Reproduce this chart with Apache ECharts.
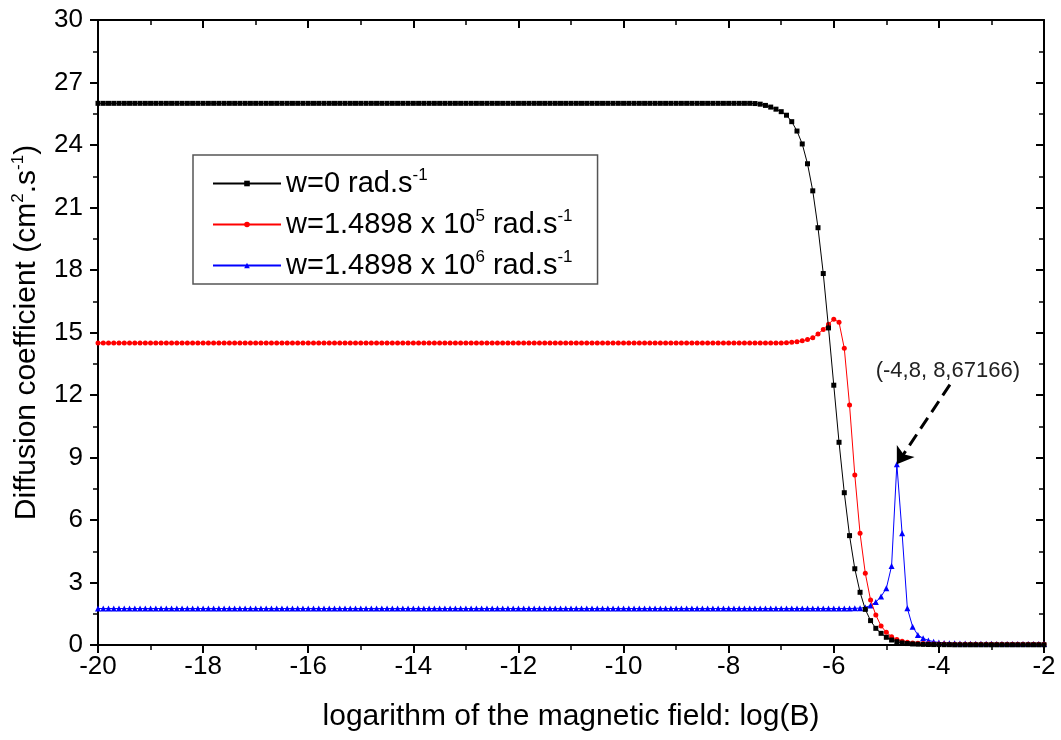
<!DOCTYPE html>
<html>
<head>
<meta charset="utf-8">
<script src="https://cdn.jsdelivr.net/npm/echarts@6/dist/echarts.min.js"></script>
<style>
html,body{margin:0;padding:0;background:#fff;}
#chart{width:1061px;height:740px;}
</style>
</head>
<body>
<div id="chart"></div>
<script>
// x grid: log(B) from -20 to -2 sampled every 0.1 (181 points)
var xStart = -20;
var xStep = 0.1;

var xTicks = [-20, -18, -16, -14, -12, -10, -8, -6, -4, -2];
var yTicks = [0, 3, 6, 9, 12, 15, 18, 21, 24, 27, 30];

var seriesNames = [
  'w=0 rad.s^-1',
  'w=1.4898 x 10^5 rad.s^-1',
  'w=1.4898 x 10^6 rad.s^-1'
];

var dW0 = [
  26,26,26,26,26,26,26,26,26,26,
  26,26,26,26,26,26,26,26,26,26,
  26,26,26,26,26,26,26,26,26,26,
  26,26,26,26,26,26,26,26,26,26,
  26,26,26,26,26,26,26,26,26,26,
  26,26,26,26,26,26,26,26,26,26,
  26,26,26,26,26,26,26,26,26,26,
  26,26,26,26,26,26,26,26,26,26,
  26,26,26,26,26,26,26,26,26,26,
  26,26,26,26,26,26,26,26,26,26,
  26,26,26,26,26,26,26,26,26,26,
  26,26,26,26,26,26,26,26,26,26,
  26,26,26,26,26,25.99,
  25.96,25.9,25.82,25.72,25.6,25.43,25.12,24.67,24.05,23.1,21.8,20.03,17.83,15.22,
  12.47,9.73,7.31,5.25,3.66,2.53,1.71,1.17,0.8,0.56,0.37,0.24,0.16,0.1,0.07,0.05,0.04,0.03,0.025,0.02,
  0.02,0.015,0.015,0.01,0.01,0.01,0.01,0.01,0.01,0.01,0.01,0.01,0.01,0.01,0.01,0.01,0.01,0.01,0.01,0.01,0.01
];

var dW5 = [
  14.5,14.5,14.5,14.5,14.5,14.5,14.5,14.5,14.5,14.5,
  14.5,14.5,14.5,14.5,14.5,14.5,14.5,14.5,14.5,14.5,
  14.5,14.5,14.5,14.5,14.5,14.5,14.5,14.5,14.5,14.5,
  14.5,14.5,14.5,14.5,14.5,14.5,14.5,14.5,14.5,14.5,
  14.5,14.5,14.5,14.5,14.5,14.5,14.5,14.5,14.5,14.5,
  14.5,14.5,14.5,14.5,14.5,14.5,14.5,14.5,14.5,14.5,
  14.5,14.5,14.5,14.5,14.5,14.5,14.5,14.5,14.5,14.5,
  14.5,14.5,14.5,14.5,14.5,14.5,14.5,14.5,14.5,14.5,
  14.5,14.5,14.5,14.5,14.5,14.5,14.5,14.5,14.5,14.5,
  14.5,14.5,14.5,14.5,14.5,14.5,14.5,14.5,14.5,14.5,
  14.5,14.5,14.5,14.5,14.5,14.5,14.5,14.5,14.5,14.5,
  14.5,14.5,14.5,14.5,14.5,14.5,14.5,14.5,14.5,14.5,
  14.5,14.5,14.5,14.5,14.5,14.5,14.5,14.5,14.5,14.5,
  14.5,14.51,14.53,14.56,14.6,14.66,14.75,14.93,15.15,15.4,15.64,15.49,
  14.24,11.52,8.16,5.36,3.44,2.16,1.44,0.91,0.61,0.4,0.27,0.18,0.13,0.1,0.08,0.07,0.06,0.05,
  0.05,0.05,0.04,0.04,0.04,0.04,0.04,0.04,0.04,0.04,0.04,0.04,0.04,0.04,0.04,0.04,0.04,0.04,0.04,0.04,0.04
];

var dW6 = [
  1.75,1.75,1.75,1.75,1.75,1.75,1.75,1.75,1.75,1.75,
  1.75,1.75,1.75,1.75,1.75,1.75,1.75,1.75,1.75,1.75,
  1.75,1.75,1.75,1.75,1.75,1.75,1.75,1.75,1.75,1.75,
  1.75,1.75,1.75,1.75,1.75,1.75,1.75,1.75,1.75,1.75,
  1.75,1.75,1.75,1.75,1.75,1.75,1.75,1.75,1.75,1.75,
  1.75,1.75,1.75,1.75,1.75,1.75,1.75,1.75,1.75,1.75,
  1.75,1.75,1.75,1.75,1.75,1.75,1.75,1.75,1.75,1.75,
  1.75,1.75,1.75,1.75,1.75,1.75,1.75,1.75,1.75,1.75,
  1.75,1.75,1.75,1.75,1.75,1.75,1.75,1.75,1.75,1.75,
  1.75,1.75,1.75,1.75,1.75,1.75,1.75,1.75,1.75,1.75,
  1.75,1.75,1.75,1.75,1.75,1.75,1.75,1.75,1.75,1.75,
  1.75,1.75,1.75,1.75,1.75,1.75,1.75,1.75,1.75,1.75,
  1.75,1.75,1.75,1.75,1.75,1.75,1.75,1.75,1.75,1.75,
  1.75,1.75,1.75,1.75,1.75,1.75,1.75,1.75,1.75,1.75,
  1.75,1.75,1.75,1.75,1.76,1.77,1.8,1.9,2.06,2.33,
  2.72,3.79,8.67166,5.36,1.76,0.88,0.48,0.32,0.22,0.16,
  0.12,0.1,0.09,0.08,0.07,0.07,0.06,0.06,0.06,0.06,0.06,0.05,0.05,0.05,0.05,0.05,0.05,0.05,0.05,0.05,0.05
];

// annotation: peak of the blue curve
var peakPoint = [-4.8, 8.67166];
var peakLabel = '(-4,8, 8,67166)';
var arrowStart = [-3.79, 12.5];
var labelAnchor = [-3.83, 13.15];

function pairs(arr) {
  var out = [];
  for (var i = 0; i < arr.length; i++) {
    out.push([+(xStart + i * xStep).toFixed(2), arr[i]]);
  }
  return out;
}

var FONT = '"Liberation Sans", Arial, sans-serif';

function legendRich(name) {
  var parts = name.split('^');
  var s = '{t|' + parts[0] + '}';
  for (var i = 1; i < parts.length; i++) {
    var p = parts[i];
    var m = p.match(/^(-?\d+)(.*)$/);
    s += '{sup|' + m[1] + '}';
    if (m[2]) s += '{t|' + m[2] + '}';
  }
  return s;
}

var chart = echarts.init(document.getElementById('chart'), null, {renderer: 'canvas'});

var axisLineStyle = {color: '#000', width: 2};

var option = {
  backgroundColor: '#fff',
  animation: false,
  grid: {left: 98, right: 17, top: 20, bottom: 95, containLabel: false, outerBoundsMode: 'none'},
  legend: {
    orient: 'vertical',
    left: 193,
    top: 155,
    padding: [12, 25, 4, 19],
    borderColor: '#555',
    borderWidth: 1.5,
    itemWidth: 68,
    itemHeight: 7,
    itemGap: 10,
    data: seriesNames,
    formatter: legendRich,
    textStyle: {
      fontFamily: FONT,
      color: '#000',
      rich: {
        t: {fontSize: 29, fontFamily: FONT, color: '#000', lineHeight: 33},
        sup: {fontSize: 17, fontFamily: FONT, color: '#000', lineHeight: 17, verticalAlign: 'top'}
      }
    }
  },
  xAxis: [
    {
      type: 'value', position: 'bottom', min: -20, max: -2, interval: 2,
      axisLine: {show: true, onZero: false, lineStyle: axisLineStyle},
      axisTick: {show: true, inside: false, length: 8, lineStyle: {color: '#000', width: 2}},
      minorTick: {show: true, splitNumber: 2, length: 5, lineStyle: {color: '#000', width: 1.5}},
      axisLabel: {fontSize: 26, color: '#000', fontFamily: FONT, margin: 9,
        formatter: function (v) { return xTicks.indexOf(v) >= 0 ? String(v) : ''; }},
      splitLine: {show: false},
      minorSplitLine: {show: false},
      name: 'logarithm of the magnetic field: log(B)',
      nameLocation: 'middle',
      nameGap: 57,
      nameTextStyle: {fontSize: 30, color: '#000', fontFamily: FONT}
    },
    {
      type: 'value', position: 'top', min: -20, max: -2, interval: 2,
      axisLine: {show: true, onZero: false, lineStyle: axisLineStyle},
      axisTick: {show: true, inside: true, length: 8, lineStyle: {color: '#000', width: 2}},
      minorTick: {show: true, splitNumber: 2, length: 5, lineStyle: {color: '#000', width: 1.5}},
      axisLabel: {show: false},
      splitLine: {show: false}
    }
  ],
  yAxis: [
    {
      type: 'value', position: 'left', min: 0, max: 30, interval: 3,
      axisLine: {show: true, onZero: false, lineStyle: axisLineStyle},
      axisTick: {show: true, inside: false, length: 8, lineStyle: {color: '#000', width: 2}},
      minorTick: {show: true, splitNumber: 2, length: 5, lineStyle: {color: '#000', width: 1.5}},
      axisLabel: {fontSize: 26, color: '#000', fontFamily: FONT, margin: 15,
        formatter: function (v) { return yTicks.indexOf(v) >= 0 ? String(v) : ''; }},
      splitLine: {show: false},
      name: '{t|Diffusion coefficient (cm}{sup|2}{t|.s}{sup|-1}{t|)}',
      nameLocation: 'middle',
      nameRotate: 90,
      nameGap: 54,
      nameTextStyle: {
        fontFamily: FONT, color: '#000',
        rich: {
          t: {fontSize: 30, fontFamily: FONT, color: '#000', lineHeight: 34},
          sup: {fontSize: 17, fontFamily: FONT, color: '#000', lineHeight: 17, verticalAlign: 'top'}
        }
      }
    },
    {
      type: 'value', position: 'right', min: 0, max: 30, interval: 3,
      axisLine: {show: true, onZero: false, lineStyle: axisLineStyle},
      axisTick: {show: true, inside: true, length: 8, lineStyle: {color: '#000', width: 2}},
      minorTick: {show: true, splitNumber: 2, length: 5, lineStyle: {color: '#000', width: 1.5}},
      axisLabel: {show: false},
      splitLine: {show: false}
    }
  ],
  series: [
    {
      name: seriesNames[0], type: 'line', xAxisIndex: 0, yAxisIndex: 0,
      data: pairs(dW0), showAllSymbol: true, symbol: 'rect', symbolSize: 5,
      lineStyle: {color: '#000', width: 1}, itemStyle: {color: '#000'}, z: 3
    },
    {
      name: seriesNames[1], type: 'line', xAxisIndex: 0, yAxisIndex: 0,
      data: pairs(dW5), showAllSymbol: true, symbol: 'circle', symbolSize: 5,
      lineStyle: {color: '#ff0000', width: 1}, itemStyle: {color: '#ff0000'}, z: 2
    },
    {
      name: seriesNames[2], type: 'line', xAxisIndex: 0, yAxisIndex: 0,
      data: pairs(dW6), showAllSymbol: true, symbol: 'triangle', symbolSize: 6,
      lineStyle: {color: '#0000ff', width: 1}, itemStyle: {color: '#0000ff'}, z: 1,
      markLine: {
        silent: true,
        symbol: ['none', 'arrow'],
        symbolSize: 16,
        precision: 5,
        lineStyle: {color: '#000', width: 3, type: [13, 7]},
        label: {show: false},
        data: [[
          {coord: arrowStart, symbol: 'none'},
          {coord: peakPoint, symbol: 'arrow', symbolSize: 16}
        ]]
      },
      markPoint: {
        silent: true,
        symbol: 'circle',
        symbolSize: 0,
        label: {show: true, formatter: peakLabel, fontSize: 22, color: '#222', fontFamily: FONT, position: 'inside'},
        data: [{coord: labelAnchor}]
      }
    }
  ]
};

chart.setOption(option);
</script>
</body>
</html>
